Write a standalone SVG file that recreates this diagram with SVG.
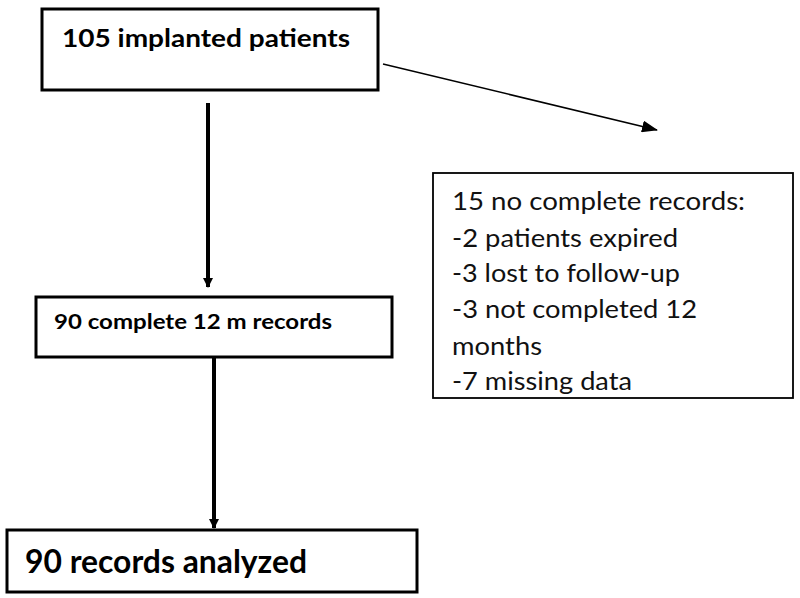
<svg xmlns="http://www.w3.org/2000/svg" width="800" height="598" viewBox="0 0 800 598">
<style>
.box{fill:#fff;stroke:#000;stroke-width:3}
.thin{fill:#fff;stroke:#000;stroke-width:1.8}
.b{font-family:Lato,"Liberation Sans",sans-serif;font-weight:bold;fill:#000}
.r{font-family:Lato,"Liberation Sans",sans-serif;font-size:25.5px;fill:#111}
</style>
<defs>
<marker id="ah" markerWidth="10" markerHeight="10" refX="9" refY="5" orient="auto" markerUnits="userSpaceOnUse" viewBox="0 0 10 10">
<path d="M0,0 L10,5 L0,10 Z" fill="#000"/>
</marker>
<marker id="ah2" markerWidth="16" markerHeight="12" refX="15" refY="6" orient="auto" markerUnits="userSpaceOnUse" viewBox="0 0 16 12">
<path d="M0,0 L16,6 L0,12 Z" fill="#000"/>
</marker>
</defs>
<rect width="800" height="598" fill="#fff"/>
<g id="connectors" stroke="#000" fill="none">
<line x1="208" y1="103" x2="208" y2="287" stroke-width="4" marker-end="url(#ah)"/>
<line x1="214" y1="358" x2="214" y2="528" stroke-width="4" marker-end="url(#ah)"/>
<line x1="383" y1="64" x2="657" y2="130" stroke-width="1.5" marker-end="url(#ah2)"/>
</g>
<g id="n1">
<rect class="box" x="42" y="9" width="336" height="81"/>
<text class="b" x="62" y="47" font-size="25.5" textLength="288" lengthAdjust="spacingAndGlyphs">105 implanted patients</text>
</g>
<g id="n2">
<rect class="box" x="36" y="297" width="356" height="60"/>
<text class="b" x="54" y="329" font-size="20" textLength="278" lengthAdjust="spacingAndGlyphs">90 complete 12 m records</text>
</g>
<g id="n3">
<rect class="box" x="7" y="530" width="410" height="62"/>
<text class="b" x="25" y="573" font-size="32.5" textLength="282" lengthAdjust="spacingAndGlyphs">90 records analyzed</text>
</g>
<g id="n4">
<rect class="thin" x="433" y="173" width="360" height="225"/>
<text class="r" x="452" y="210" textLength="293" lengthAdjust="spacingAndGlyphs">15 no complete records:</text>
<text class="r" x="452" y="247" textLength="226" lengthAdjust="spacingAndGlyphs">-2 patients expired</text>
<text class="r" x="452" y="282" textLength="228" lengthAdjust="spacingAndGlyphs">-3 lost to follow-up</text>
<text class="r" x="452" y="318" textLength="245" lengthAdjust="spacingAndGlyphs">-3 not completed 12</text>
<text class="r" x="452" y="355" textLength="90" lengthAdjust="spacingAndGlyphs">months</text>
<text class="r" x="452" y="390" textLength="180" lengthAdjust="spacingAndGlyphs">-7 missing data</text>
</g>
</svg>
